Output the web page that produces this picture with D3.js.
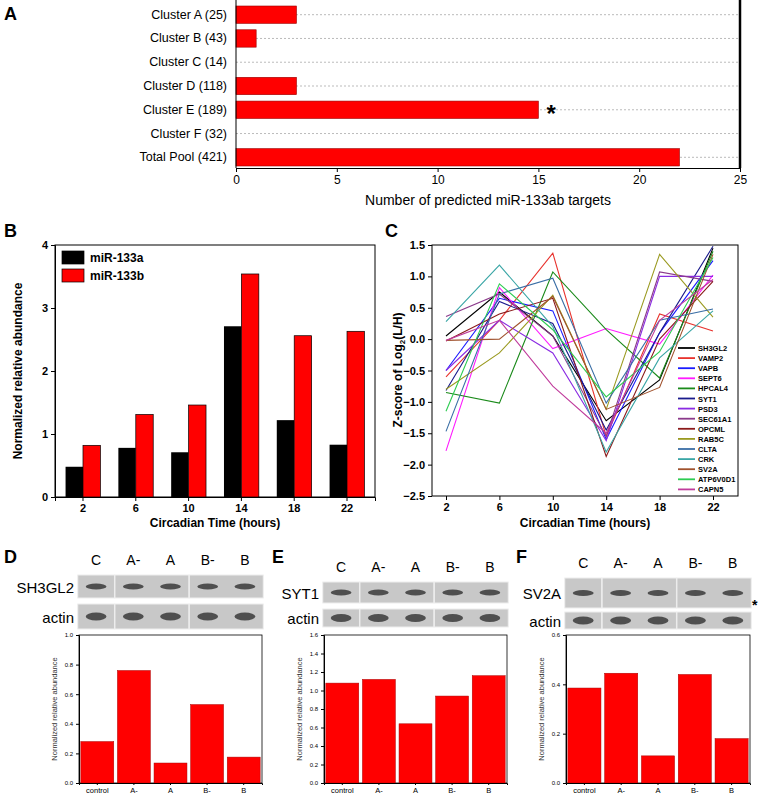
<!DOCTYPE html>
<html><head><meta charset="utf-8">
<script src="https://cdn.jsdelivr.net/npm/d3@7"></script>
<style>body{margin:0;background:#fff}text{font-family:Arial,"Liberation Sans",sans-serif}</style>
</head><body>
<script>
// panel A
var clusters = ["Cluster A (25)","Cluster B (43)","Cluster C (14)","Cluster D (118)","Cluster E (189)","Cluster F (32)","Total Pool (421)"];
var targets = [3,1,0,3,15,0,22];
// panel B
var hours = [2,6,10,14,18,22];
var mir133a = [0.48,0.78,0.71,2.71,1.22,0.83];
var mir133b = [0.82,1.31,1.46,3.54,2.56,2.63];
// panel C
var genes = ["SH3GL2","VAMP2","VAPB","SEPT6","HPCAL4","SYT1","PSD3","SEC61A1","OPCML","RAB5C","CLTA","CRK","SV2A","ATP6V0D1","CAPN5"];
var geneColors = ["#000000","#e8322d","#1a1aff","#ff1aff","#1a8a1a","#1a1a8c","#8a2be2","#8b3a8b","#8b1a1a","#9a9a20","#3a6ea5","#3aa6a6","#a0522d","#2ecc52","#c03c9c"];
var zscores = [
  [0.05,0.75,0.05,-1.3,-0.65,1.45],
  [-0.6,0.3,1.37,-1.55,0.4,0.13],
  [-0.5,0.65,0.45,-1.6,0.1,1.25],
  [-1.78,0.82,-0.15,0.17,-0.08,1.02],
  [-0.85,-1.02,1.07,0.15,-0.62,1.4],
  [-0.82,0.6,0.25,-1.45,0.1,1.48],
  [-0.5,0.3,-0.22,-1.62,1.0,1.0],
  [0.36,0.72,0.05,-1.55,1.07,0.92],
  [-0.03,0.4,0.65,-1.87,0.0,0.92],
  [-0.8,-0.22,0.7,-1.12,1.35,0.35],
  [-1.47,0.72,0.97,-1.02,0.3,0.48],
  [0.28,1.18,0.2,-1.8,-0.3,0.45],
  [-0.02,0.0,0.68,-1.12,-0.77,1.35],
  [-1.15,0.88,0.15,-0.92,-0.2,1.3],
  [-0.02,0.3,-0.75,-1.5,0.3,0.95]
];
// panels D-F
var lanes = ["control","A-","A","B-","B"];
var laneHead = ["C","A-","A","B-","B"];
var sh3gl2 = [0.28,0.76,0.135,0.53,0.175];
var syt1 = [1.08,1.12,0.64,0.94,1.16];
var sv2a = [0.385,0.445,0.11,0.44,0.18];

var svg = d3.select('body').append('svg').attr('width',770).attr('height',800);
function letter(t,x,y){svg.append('text').text(t).attr('x',x).attr('y',y).attr('font-size',18).attr('font-weight','bold');}

// ---- A
letter('A',4,20);
var ax = d3.scaleLinear().domain([0,25]).range([236,740]);
var ay = d3.scaleBand().domain(clusters).range([4,168]).paddingInner(0.1);
var gA = svg.append('g');
clusters.forEach(function(c){
  gA.append('line').attr('x1',236).attr('x2',740).attr('y1',ay(c)+ay.bandwidth()/2).attr('y2',ay(c)+ay.bandwidth()/2)
    .attr('stroke','#bbb').attr('stroke-dasharray','2,2');
});
gA.selectAll('rect').data(targets).enter().append('rect')
  .attr('x',ax(0)).attr('y',function(d,i){return ay(clusters[i])+2})
  .attr('width',function(d){return ax(d)-ax(0)}).attr('height',ay.bandwidth()-4)
  .attr('fill','#ff0000').attr('stroke','#900').attr('stroke-width',0.6);
gA.append('g').attr('transform','translate(0,168)').call(d3.axisBottom(ax).tickValues([0,5,10,15,20,25]).tickSize(4))
  .call(function(g){g.selectAll('text').attr('font-size',12).attr('font-family','Open Sans');});
gA.append('g').attr('transform','translate(236,0)').call(d3.axisLeft(ay).tickSize(0).tickPadding(9))
  .call(function(g){g.select('.domain').remove();g.selectAll('text').attr('font-size',12.5).attr('font-family','Open Sans');});
gA.append('line').attr('x1',236).attr('x2',236).attr('y1',0).attr('y2',168).attr('stroke','#000');
gA.append('line').attr('x1',740).attr('x2',740).attr('y1',0).attr('y2',168).attr('stroke','#000').attr('stroke-width',2.5);
gA.append('text').text('*').attr('x',ax(15)+8).attr('y',ay(clusters[4])+ay.bandwidth()/2+12).attr('font-size',24).attr('font-weight','bold');
gA.append('text').text('Number of predicted miR-133ab targets').attr('x',488).attr('y',205).attr('text-anchor','middle').attr('font-size',14).attr('font-family','Open Sans');

// ---- B
letter('B',4,237);
var bx = d3.scaleBand().domain(hours).range([55,375]).paddingInner(0.34).paddingOuter(0.2);
var by = d3.scaleLinear().domain([0,4]).range([497,245]);
var gB = svg.append('g');
gB.append('rect').attr('x',55).attr('y',245).attr('width',320).attr('height',252).attr('fill','none').attr('stroke','#000');
gB.selectAll('.ba').data(mir133a).enter().append('rect')
  .attr('x',function(d,i){return bx(hours[i])}).attr('y',function(d){return by(d)})
  .attr('width',bx.bandwidth()/2).attr('height',function(d){return 497-by(d)}).attr('fill','#000');
gB.selectAll('.bb').data(mir133b).enter().append('rect')
  .attr('x',function(d,i){return bx(hours[i])+bx.bandwidth()/2}).attr('y',function(d){return by(d)})
  .attr('width',bx.bandwidth()/2).attr('height',function(d){return 497-by(d)}).attr('fill','#ff0000').attr('stroke','#000').attr('stroke-width',0.7);
gB.append('g').attr('transform','translate(0,497)').call(d3.axisBottom(bx).tickSize(4))
  .call(function(g){g.selectAll('text').attr('font-size',11).attr('font-weight','bold');});
gB.append('g').attr('transform','translate(55,0)').call(d3.axisLeft(by).ticks(4).tickSize(4))
  .call(function(g){g.selectAll('text').attr('font-size',11).attr('font-weight','bold');});
gB.append('text').text('Circadian Time (hours)').attr('x',215).attr('y',527).attr('text-anchor','middle').attr('font-size',12).attr('font-weight','bold');
gB.append('text').text('Normalized relative abundance').attr('transform','translate(22,371) rotate(-90)').attr('text-anchor','middle').attr('font-size',12).attr('font-weight','bold');
[['miR-133a','#000'],['miR-133b','#ff0000']].forEach(function(l,i){
  gB.append('rect').attr('x',62).attr('y',251+i*18).attr('width',22).attr('height',13).attr('fill',l[1]).attr('stroke','#000').attr('stroke-width',0.7);
  gB.append('text').text(l[0]).attr('x',90).attr('y',262+i*18).attr('font-size',12).attr('font-weight','bold');
});

// ---- C
letter('C',385,237);
var cx = d3.scaleLinear().domain([2,22]).range([446,713]);
var cy = d3.scaleLinear().domain([-2.5,1.5]).range([496,245]);
var gC = svg.append('g');
gC.append('rect').attr('x',432).attr('y',245).attr('width',306).attr('height',251).attr('fill','none').attr('stroke','#000');
var line = d3.line().x(function(d,i){return cx(hours[i])}).y(function(d){return cy(d)});
gC.selectAll('path.s').data(zscores).enter().append('path').attr('class','s')
  .attr('d',line).attr('fill','none').attr('stroke',function(d,i){return geneColors[i]}).attr('stroke-width',1.1);
gC.append('g').attr('transform','translate(0,496)').call(d3.axisBottom(cx).tickValues(hours).tickSize(4))
  .call(function(g){g.select('.domain').remove();g.selectAll('text').attr('font-size',11).attr('font-weight','bold');});
gC.append('g').attr('transform','translate(432,0)').call(d3.axisLeft(cy).tickValues(d3.range(-2.5,1.51,0.5)).tickFormat(d3.format('.1f')).tickSize(4))
  .call(function(g){g.select('.domain').remove();g.selectAll('text').attr('font-size',11).attr('font-weight','bold');});
gC.append('text').text('Circadian Time (hours)').attr('x',585).attr('y',527).attr('text-anchor','middle').attr('font-size',12).attr('font-weight','bold');
var yl = gC.append('text').attr('transform','translate(402,370) rotate(-90)').attr('text-anchor','middle').attr('font-size',12).attr('font-weight','bold');
yl.append('tspan').text('Z-score of Log');
yl.append('tspan').text('2').attr('font-size',8).attr('dy',3);
yl.append('tspan').text('(L/H)').attr('dy',-3);
genes.forEach(function(g,i){
  var y = 348 + i*10.1;
  gC.append('line').attr('x1',678).attr('x2',695).attr('y1',y).attr('y2',y).attr('stroke',geneColors[i]).attr('stroke-width',1.8);
  gC.append('text').text(g).attr('x',698).attr('y',y+3).attr('font-size',7.5).attr('font-weight','bold');
});

// ---- D, E, F
function blotPanel(lab, lx, plotX, plotW, protein, vals, ymax, ticks, protTop, protH, actTop, actH){
  letter(lab, lx, 563);
  var g = svg.append('g');
  var groups = lab == 'D' ? [[0],[1,2],[3,4]] : [[0],[1,2],[3,4]];
  var laneX = d3.scaleBand().domain(lanes).range([plotX, plotX+plotW]).paddingInner(0.12).paddingOuter(0.02);
  laneHead.forEach(function(h,i){
    g.append('text').text(h).attr('x',laneX(lanes[i])+laneX.bandwidth()/2).attr('y',protTop-10).attr('text-anchor','middle').attr('font-size',14).attr('font-family','Liberation Sans Narrow, Arial');
  });
  [[protTop,protH,protein],[actTop,actH,'actin']].forEach(function(r){
    groups.forEach(function(gr){
      var x0 = laneX(lanes[gr[0]])-2, x1 = laneX(lanes[gr[gr.length-1]])+laneX.bandwidth()+2;
      g.append('rect').attr('x',x0).attr('y',r[0]).attr('width',x1-x0).attr('height',r[1]).attr('fill','#c8c8c8').attr('stroke','#eee');
      gr.forEach(function(k){
        g.append('ellipse').attr('cx',laneX(lanes[k])+laneX.bandwidth()/2).attr('cy',r[0]+r[1]/2)
          .attr('rx',laneX.bandwidth()/2-6).attr('ry',r[2]=='actin'?4:3).attr('fill','#3a3a3a').attr('opacity',0.85);
      });
    });
    g.append('text').text(r[2]).attr('x',plotX-5).attr('y',r[0]+r[1]/2+6).attr('text-anchor','end').attr('font-size',15).attr('font-family','Liberation Sans Narrow, Arial');
  });
  var top = 635, bot = 783;
  var x = d3.scaleBand().domain(lanes).range([plotX,plotX+plotW]).paddingInner(0.1).paddingOuter(0.05);
  var y = d3.scaleLinear().domain([0,ymax]).range([bot,top]);
  g.append('rect').attr('x',plotX).attr('y',top).attr('width',plotW).attr('height',bot-top).attr('fill','none').attr('stroke','#000').attr('stroke-width',0.8);
  g.selectAll('.bar').data(vals).enter().append('rect')
    .attr('x',function(d,i){return x(lanes[i])}).attr('y',function(d){return y(d)})
    .attr('width',x.bandwidth()).attr('height',function(d){return bot-y(d)})
    .attr('fill','#ff0000').attr('stroke','#a00').attr('stroke-width',0.5);
  g.append('g').attr('transform','translate(0,'+bot+')').call(d3.axisBottom(x).tickSize(2))
    .call(function(a){a.selectAll('text').attr('font-size',7.5);});
  g.append('g').attr('transform','translate('+plotX+',0)').call(d3.axisLeft(y).tickValues(ticks).tickFormat(d3.format('.1f')).tickSize(3))
    .call(function(a){a.selectAll('text').attr('font-size',6);});
  g.append('text').text('Normalized relative abundance').attr('transform','translate('+(plotX-22)+','+((top+bot)/2)+') rotate(-90)')
    .attr('text-anchor','middle').attr('font-size',7.5).attr('fill','#333');
  return g;
}
blotPanel('D',4,79,183,'SH3GL2',sh3gl2,1.0,[0,0.2,0.4,0.6,0.8,1.0],575,23,604,25);
blotPanel('E',272,324,183,'SYT1',syt1,1.6,[0,0.2,0.4,0.6,0.8,1.0,1.2,1.4,1.6],582,21,609,18);
var gF = blotPanel('F',516,566,184,'SV2A',sv2a,0.6,[0,0.2,0.4,0.6],578,30,612,17);
gF.append('text').text('*').attr('x',752).attr('y',610).attr('font-size',14).attr('font-weight','bold');
</script>
</body></html>
